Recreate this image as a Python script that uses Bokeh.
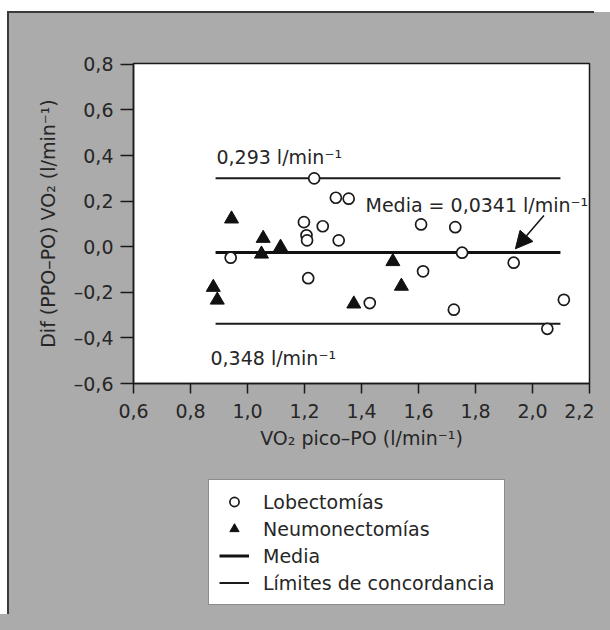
from bokeh.plotting import figure
from bokeh.layouts import column
from bokeh.models import (FixedTicker, CustomJSTickFormatter, Label, Arrow, NormalHead,
                          Legend, LegendItem, Range1d)
from bokeh.embed import file_html
from bokeh.resources import INLINE

# ---- data ----
lob_x = [1.234, 1.310, 1.355, 1.198, 1.264, 1.207, 1.209, 1.320, 0.941, 1.213,
         1.609, 1.729, 1.753, 1.934, 1.616, 1.429, 1.724, 2.110, 2.052]
lob_y = [0.300, 0.215, 0.211, 0.108, 0.090, 0.050, 0.028, 0.028, -0.048, -0.138,
         0.098, 0.086, -0.026, -0.070, -0.108, -0.247, -0.276, -0.233, -0.360]

neu_x = [0.944, 1.055, 1.049, 1.116, 0.880, 0.894, 1.510, 1.540, 1.373]
neu_y = [0.122, 0.037, -0.032, -0.002, -0.178, -0.234, -0.065, -0.173, -0.251]

line_x = [0.888, 2.098]
media_y = -0.025
upper_y = 0.300
lower_y = -0.338

x_ticks = [0.6, 0.8, 1.0, 1.2, 1.4, 1.6, 1.8, 2.0, 2.2]
y_ticks = [-0.6, -0.4, -0.2, 0.0, 0.2, 0.4, 0.6, 0.8]

legend_labels = ["Lobectom\u00edas", "Neumonectom\u00edas", "Media",
                 "L\u00edmites de concordancia"]

FONT = "DejaVu Sans"
TXT = "#262626"
GRAY = "#ababab"
DARK = "#3a3a3a"

# ---------------- main chart ----------------
p = figure(width=594, height=460, output_backend="svg", toolbar_location=None,
           x_range=Range1d(0.6, 2.2), y_range=Range1d(-0.6, 0.804),
           min_border_left=133, min_border_right=5, min_border_top=63,
           min_border_bottom=77)
p.styles = {
    "background": (f"linear-gradient({DARK},{DARK}) 7px 11px / 2px 100% no-repeat, "
                   f"linear-gradient({DARK},{DARK}) 7px 11px / 100% 2px no-repeat, "
                   f"linear-gradient({GRAY},{GRAY}) 8px 12px / 100% 100% no-repeat"),
    "box-shadow": f"16px 12px 0 0 {GRAY}",
}
p.border_fill_color = GRAY
p.border_fill_alpha = 0
p.background_fill_color = "white"
p.outline_line_color = "#1a1a1a"
p.outline_line_width = 1.5
p.grid.visible = False

fmt = CustomJSTickFormatter(code="return tick.toFixed(1).replace('.', ',').replace('-', '\u2013');")
for ax, ticks in ((p.xaxis[0], x_ticks), (p.yaxis[0], y_ticks)):
    ax.ticker = FixedTicker(ticks=ticks)
    ax.formatter = fmt
    ax.minor_tick_line_color = None
    ax.major_tick_in = 0
    ax.axis_line_width = 1.5
    ax.axis_line_color = "#1a1a1a"
    ax.major_tick_line_width = 1.5
    ax.major_tick_line_color = "#1a1a1a"
    ax.major_label_text_font = FONT
    ax.major_label_text_font_size = "19px"
    ax.major_label_text_color = TXT
    ax.axis_label_text_font = FONT
    ax.axis_label_text_font_size = "19px"
    ax.axis_label_text_font_style = "normal"
    ax.axis_label_text_color = TXT

p.xaxis.major_tick_out = 10
p.xaxis.major_label_standoff = 10
p.xaxis.axis_label = "VO\u2082 pico\u2013PO (l/min\u207b\u00b9)"
p.xaxis.axis_label_standoff = 6
p.yaxis.major_tick_out = 13
p.yaxis.major_label_standoff = 7
p.yaxis.axis_label = "Dif (PPO\u2013PO) VO\u2082 (l/min\u207b\u00b9)"
p.yaxis.axis_label_standoff = 12

LIM = dict(line_color="#1a1a1a", line_width=2)
MED = dict(line_color="#111111", line_width=3)
LOB = dict(marker="circle", size=11, fill_color="white", line_color="#1a1a1a", line_width=1.7)
NEU = dict(marker="triangle", size=14, fill_color="#111111", line_color="#111111", line_width=1)

p.line(line_x, [upper_y, upper_y], **LIM)
p.line(line_x, [lower_y, lower_y], **LIM)
p.line(line_x, [media_y, media_y], **MED)
p.scatter(lob_x, lob_y, **LOB)
p.scatter(neu_x, neu_y, **NEU)

for txt, x, y in (("0,293 l/min\u207b\u00b9", 0.891, 0.392),
                  ("0,348 l/min\u207b\u00b9", 0.870, -0.486),
                  ("Media = 0,0341 l/min\u207b\u00b9", 1.414, 0.181)):
    p.add_layout(Label(x=x, y=y, text=txt, text_font=FONT, text_font_size="19px",
                       text_color=TXT, text_baseline="alphabetic"))

p.add_layout(Arrow(end=NormalHead(size=17, fill_color="#111111", line_color="#111111"),
                   x_start=2.04, y_start=0.137, x_end=1.94, y_end=-0.009,
                   line_width=1.5, line_color="#111111"))

# ---------------- legend strip ----------------
q = figure(width=594, height=154, output_backend="svg", toolbar_location=None,
           x_range=Range1d(0, 1), y_range=Range1d(0, 1),
           x_axis_type=None, y_axis_type=None,
           min_border_left=0, min_border_right=0, min_border_top=0, min_border_bottom=0)
q.styles = {
    "background": (f"linear-gradient({DARK},{DARK}) 7px 0 / 2px 100% no-repeat, "
                   f"linear-gradient({GRAY},{GRAY}) 8px 0 / 100% 100% no-repeat"),
    "box-shadow": f"16px 16px 0 16px {GRAY}",
}
q.border_fill_alpha = 0
q.background_fill_alpha = 0
q.outline_line_color = None
q.grid.visible = False

g_lob = q.scatter([-5], [-5], **LOB)
g_neu = q.scatter([-5], [-5], **NEU)
g_med = q.line([-5, -4], [-5, -5], **MED)
g_lim = q.line([-5, -4], [-5, -5], **LIM)

legend = Legend(items=[LegendItem(label=lab, renderers=[r])
                       for lab, r in zip(legend_labels, [g_lob, g_neu, g_med, g_lim])],
                location=(75, 9), orientation="vertical",
                label_text_font=FONT, label_text_font_size="19px", label_text_color=TXT,
                glyph_width=30, glyph_height=23, label_height=23, spacing=4,
                padding=10, margin=0, label_standoff=14,
                border_line_color="#1a1a1a", border_line_width=1.5,
                background_fill_color="white", background_fill_alpha=1.0)
q.add_layout(legend, "center")

layout = column(p, q, spacing=0)
open("out.html", "w").write(file_html(layout, INLINE))
